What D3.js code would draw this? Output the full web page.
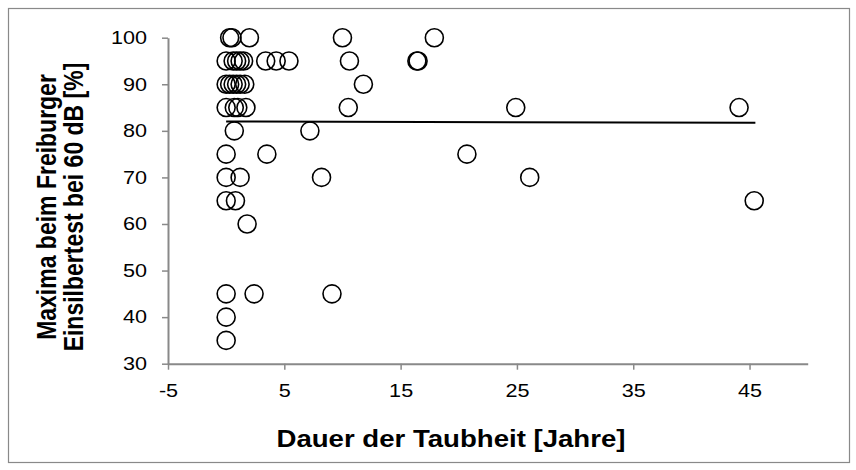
<!DOCTYPE html>
<html>
<head>
<meta charset="utf-8">
<script src="https://cdn.jsdelivr.net/npm/d3@7"></script>
<style>
  body { margin: 0; background: #fff; }
  svg { display: block; font-family: "Liberation Sans", Arial, sans-serif; }
</style>
</head>
<body>
<svg id="chart" width="856" height="470"></svg>
<script>
// Dauer der Taubheit [Jahre] vs. Maxima beim Freiburger Einsilbertest
var dauer = [0.3, 0.5, 2.0, 10.0, 17.9,
             0, 0.6, 0.9, 1.2, 1.5, 3.4, 4.3, 5.4, 10.6, 16.4, 16.5,
             0, 0.3, 0.6, 0.9, 1.2, 1.6, 11.8,
             0, 0.7, 1.0, 1.7, 10.5, 24.9, 44.1,
             0.7, 7.2,
             0, 3.5, 20.7,
             0, 1.2, 8.2, 26.1,
             0, 0.8, 45.4,
             1.8,
             0, 2.4, 9.1,
             0,
             0];
var maxima = [100, 100, 100, 100, 100,
              95, 95, 95, 95, 95, 95, 95, 95, 95, 95, 95,
              90, 90, 90, 90, 90, 90, 90,
              85, 85, 85, 85, 85, 85, 85,
              80, 80,
              75, 75, 75,
              70, 70, 70, 70,
              65, 65, 65,
              60,
              45, 45, 45,
              40,
              35];
// linearer Trend
var trendX = [0, 45.5];
var trendY = [82.0, 81.75];

var xTicks = [-5, 5, 15, 25, 35, 45];
var yTicks = [30, 40, 50, 60, 70, 80, 90, 100];

var svg = d3.select("#chart");
var STRETCH = 1.2;   // text in the reference is a bit wider than tall
var axisCol = "#898989";

var x = d3.scaleLinear().domain([-5, 50]).range([168, 807.7]);
var y = d3.scaleLinear().domain([30, 100]).range([363.7, 37.7]);

// outer frame
svg.append("rect")
  .attr("x", 8.5).attr("y", 8.5)
  .attr("width", 841).attr("height", 454)
  .attr("fill", "none").attr("stroke", axisCol).attr("stroke-width", 1.2);

function stretchText(sel){
  sel.each(function(){
    var t = d3.select(this);
    var x0 = +t.attr("x") || 0;
    t.attr("transform", "translate(" + (x0*(1-STRETCH)) + ",0) scale(" + STRETCH + ",1)");
  });
}

// plain hyphen for negatives, like the original
var fmt = function(d){ return String(d); };

var gx = svg.append("g")
  .attr("transform", "translate(0," + y(30) + ")")
  .call(d3.axisBottom(x).tickValues(xTicks).tickFormat(fmt)
    .tickSize(6).tickPadding(15).tickSizeOuter(0));

var gy = svg.append("g")
  .attr("transform", "translate(" + x(-5) + ",0)")
  .call(d3.axisLeft(y).tickValues(yTicks).tickFormat(fmt)
    .tickSize(6).tickPadding(15).tickSizeOuter(0));

[gx, gy].forEach(function(g){
  g.select(".domain").attr("stroke", axisCol).attr("stroke-width", 2);
  g.selectAll(".tick line").attr("stroke", axisCol).attr("stroke-width", 1.5);
  g.selectAll(".tick text")
    .attr("fill", "#000")
    .style("font-size", "18px")
    .call(stretchText);
});

// trend line
svg.append("line")
  .attr("x1", x(trendX[0])).attr("y1", y(trendY[0]))
  .attr("x2", x(trendX[1])).attr("y2", y(trendY[1]))
  .attr("stroke", "#000").attr("stroke-width", 2);

// points
var pts = dauer.map(function(d, i){ return {x: d, y: maxima[i]}; });
svg.append("g").selectAll("circle")
  .data(pts)
  .enter().append("circle")
  .attr("cx", function(d){ return x(d.x); })
  .attr("cy", function(d){ return y(d.y); })
  .attr("r", 9)
  .attr("fill", "none")
  .attr("stroke", "#000")
  .attr("stroke-width", 1.6);

// axis titles
svg.append("g")
  .attr("transform", "translate(451,446.5) scale(" + STRETCH + ",1)")
  .append("text")
  .attr("text-anchor", "middle")
  .style("font-size", "23px").style("font-weight", "bold")
  .text("Dauer der Taubheit [Jahre]");

var yt = svg.append("g")
  .attr("transform", "translate(0,207) scale(" + STRETCH + ",1) rotate(-90)");
yt.append("text")
  .attr("text-anchor", "middle")
  .attr("y", 56 / STRETCH)
  .style("font-size", "23px").style("font-weight", "bold")
  .text("Maxima beim Freiburger");
yt.append("text")
  .attr("text-anchor", "middle")
  .attr("y", 83.3 / STRETCH)
  .style("font-size", "23px").style("font-weight", "bold")
  .text("Einsilbertest bei 60 dB [%]");
</script>
</body>
</html>
